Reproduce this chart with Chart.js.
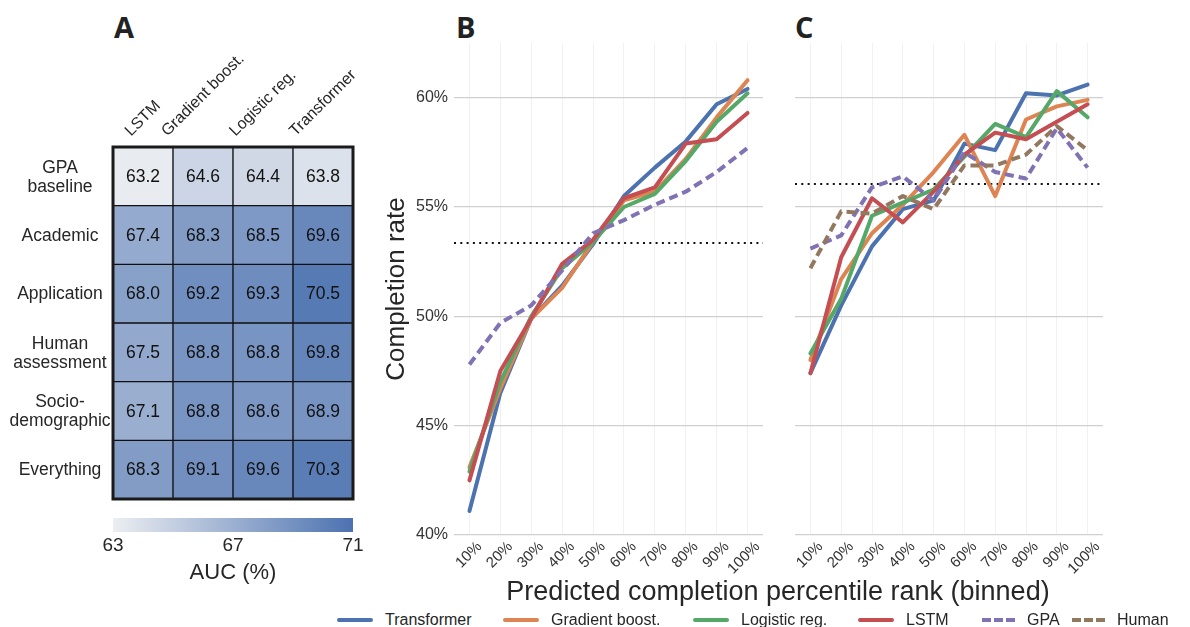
<!DOCTYPE html>
<html lang="en">
<head>
<meta charset="UTF-8" />
<title>Completion rate by predicted percentile</title>
<script src="https://cdn.jsdelivr.net/npm/chart.js@4.4.0/dist/chart.umd.min.js"></script>
<style>
  body { margin: 0; width: 1190px; height: 627px; background: #fff; position: relative; overflow: hidden;
         font-family: "Liberation Sans", Arial, sans-serif; color: #262626; }
  canvas { position: absolute; }
  .letter { position: absolute; top: 10px; font-family: "Open Sans", sans-serif; font-weight: 700; font-size: 29px; line-height: 34px; color: #222; }
  .xtitle { position: absolute; left: 428px; width: 700px; top: 576px; text-align: center; font-size: 27px; line-height: 30px; }
  .leg { position: absolute; top: 610px; height: 20px; display: flex; align-items: center; font-size: 16px; line-height: 20px; white-space: nowrap; }
  .leg .sw { height: 4px; margin-right: 12px; border-radius: 2px; }
</style>
</head>
<body>
<div class="letter" style="left:114px">A</div>
<div class="letter" style="left:456px">B</div>
<div class="letter" style="left:795px">C</div>

<canvas id="heat" width="380" height="600" style="left:0;top:0"></canvas>
<canvas id="chartB" width="390" height="580" style="left:380px;top:0"></canvas>
<canvas id="chartC" width="330" height="580" style="left:780px;top:0"></canvas>

<div class="xtitle">Predicted completion percentile rank (binned)</div>
<div id="legend"></div>

<script>
// ---- panel A data (AUC %) ----
const models = ['LSTM', 'Gradient boost.', 'Logistic reg.', 'Transformer'];
const featureSets = [['GPA', 'baseline'], ['Academic'], ['Application'], ['Human', 'assessment'], ['Socio-', 'demographic'], ['Everything']];
const aucGPA         = [63.2, 64.6, 64.4, 63.8];
const aucAcademic    = [67.4, 68.3, 68.5, 69.6];
const aucApplication = [68.0, 69.2, 69.3, 70.5];
const aucHuman       = [67.5, 68.8, 68.8, 69.8];
const aucSocio       = [67.1, 68.8, 68.6, 68.9];
const aucEverything  = [68.3, 69.1, 69.6, 70.3];
const aucRows = [aucGPA, aucAcademic, aucApplication, aucHuman, aucSocio, aucEverything];
const colorbarTicks = [63, 67, 71];

// ---- panels B and C data (completion rate %) ----
const bins = ['10%', '20%', '30%', '40%', '50%', '60%', '70%', '80%', '90%', '100%'];
const yTicks = [40, 45, 50, 55, 60];

const bTransformer = [41.1, 46.5, 49.9, 51.4, 53.3, 55.5, 56.8, 58.0, 59.7, 60.4];
const bGradient    = [43.1, 46.7, 49.9, 51.3, 53.4, 55.3, 55.7, 57.2, 59.1, 60.8];
const bLogistic    = [42.9, 47.0, 50.0, 52.2, 53.4, 55.0, 55.6, 57.1, 58.9, 60.2];
const bLSTM        = [42.5, 47.5, 49.9, 52.4, 53.5, 55.4, 55.9, 57.9, 58.1, 59.3];
const bGPA         = [47.8, 49.7, 50.5, 52.1, 53.8, 54.4, 55.1, 55.7, 56.6, 57.7];
const bOverall = 53.35;

const cTransformer = [47.4, 50.5, 53.2, 54.9, 55.3, 57.9, 57.6, 60.2, 60.1, 60.6];
const cGradient    = [48.0, 51.7, 53.8, 55.1, 56.6, 58.3, 55.5, 59.0, 59.6, 59.9];
const cLogistic    = [48.3, 50.8, 54.6, 55.2, 55.8, 57.3, 58.8, 58.2, 60.3, 59.1];
const cLSTM        = [47.4, 52.7, 55.4, 54.3, 55.7, 57.4, 58.4, 58.1, 58.9, 59.7];
const cGPA         = [53.1, 53.7, 55.9, 56.4, 55.3, 57.5, 56.6, 56.3, 58.6, 56.8];
const cHuman       = [52.2, 54.8, 54.7, 55.5, 54.9, 56.9, 56.9, 57.4, 58.7, 57.6];
const cOverall = 56.05;

// styles
const styles = {
  'Transformer':     { color: '#4c72b0', dash: false, order: 6 },
  'Gradient boost.': { color: '#dd8452', dash: false, order: 5 },
  'Logistic reg.':   { color: '#55a868', dash: false, order: 4 },
  'LSTM':            { color: '#c44e52', dash: false, order: 3 },
  'GPA':             { color: '#8172b3', dash: true,  order: 2 },
  'Human':           { color: '#937860', dash: true,  order: 1 }
};

Chart.defaults.font.family = '"Liberation Sans", Arial, sans-serif';
Chart.defaults.color = '#333';

// colour scale for the heatmap
const lo = [236, 238, 242], hi = [76, 114, 176];
function aucColor(v) {
  const t = Math.max(0, Math.min(1, (v - 63) / 8));
  const c = lo.map((a, i) => Math.round(a + (hi[i] - a) * t));
  return `rgb(${c[0]},${c[1]},${c[2]})`;
}

const heatLabels = {
  id: 'heatLabels',
  afterDatasetsDraw(chart) {
    const { ctx, chartArea: a, scales: { x, y } } = chart;
    ctx.save();
    ctx.textAlign = 'center';
    ctx.textBaseline = 'middle';
    ctx.font = '17.5px "Liberation Sans", Arial, sans-serif';
    ctx.fillStyle = '#111';
    aucRows.forEach((row, r) => row.forEach((v, c) => {
      ctx.fillText(v.toFixed(1), x.getPixelForValue(c), y.getPixelForValue(r + 0.5) + 1);
    }));
    ctx.lineWidth = 3;
    ctx.strokeStyle = '#1a1a1a';
    ctx.strokeRect(a.left, a.top, a.width, a.height);

    // row labels
    ctx.fillStyle = '#262626';
    featureSets.forEach((lines, r) => {
      const cy = y.getPixelForValue(r + 0.5);
      lines.forEach((t, i) => ctx.fillText(t, 60, cy + 1 + (i - (lines.length - 1) / 2) * 19));
    });

    // column labels, rotated 45 deg, bbox centred on column
    ctx.font = '16px "Liberation Sans", Arial, sans-serif';
    models.forEach((m, c) => {
      const w = ctx.measureText(m).width;
      const side = (w + 12) * Math.SQRT1_2;
      ctx.save();
      ctx.translate(x.getPixelForValue(c), a.top - 9 - side / 2);
      ctx.rotate(-Math.PI / 4);
      ctx.fillText(m, 0, 0);
      ctx.restore();
    });

    // colour bar
    const top = a.bottom + 19, h = 14;
    const g = ctx.createLinearGradient(a.left, 0, a.right, 0);
    g.addColorStop(0, aucColor(63));
    g.addColorStop(1, aucColor(71));
    ctx.fillStyle = g;
    ctx.fillRect(a.left, top, a.width, h);
    ctx.fillStyle = '#262626';
    ctx.font = '19px "Liberation Sans", Arial, sans-serif';
    colorbarTicks.forEach(t => {
      const px = a.left + (t - 63) / 8 * a.width;
      ctx.fillText(String(t), px, top + h + 14);
    });
    ctx.font = '22px "Liberation Sans", Arial, sans-serif';
    ctx.fillText('AUC (%)', (a.left + a.right) / 2, top + h + 41);
    ctx.restore();
  }
};

new Chart(document.getElementById('heat'), {
  type: 'bar',
  data: {
    labels: models,
    datasets: aucRows.map((row, r) => ({
      label: featureSets[r].join(' '),
      data: row.map(() => [r, r + 1]),
      backgroundColor: row.map(aucColor),
      borderColor: '#111',
      borderWidth: 1,
      borderSkipped: false,
      barPercentage: 1,
      categoryPercentage: 1,
      grouped: false
    }))
  },
  options: {
    responsive: false,
    animation: false,
    layout: { padding: { left: 113, right: 27, top: 147, bottom: 101 } },
    plugins: { legend: { display: false }, tooltip: { enabled: false } },
    scales: {
      x: { display: false },
      y: { display: false, min: 0, max: 6, reverse: true }
    }
  },
  plugins: [heatLabels]
});

// dotted line for the overall completion rate
function overallLine(value) {
  return {
    id: 'overall',
    beforeDatasetsDraw(chart) {
      const { ctx, chartArea: a, scales: { y } } = chart;
      const py = y.getPixelForValue(value);
      ctx.save();
      ctx.strokeStyle = '#111';
      ctx.lineWidth = 2;
      ctx.setLineDash([2, 4.3]);
      ctx.beginPath();
      ctx.moveTo(a.left, py);
      ctx.lineTo(a.right, py);
      ctx.stroke();
      ctx.restore();
    }
  };
}

function lineChart(id, series, overall, withTicks) {
  return new Chart(document.getElementById(id), {
    type: 'line',
    data: {
      labels: bins,
      datasets: series.map(([name, values]) => ({
        label: name,
        data: values,
        borderColor: styles[name].color,
        borderWidth: 4,
        borderDash: styles[name].dash ? [9, 5] : [],
        borderCapStyle: styles[name].dash ? 'butt' : 'round',
        borderJoinStyle: 'round',
        pointRadius: 0,
        tension: 0,
        fill: false,
        order: styles[name].order
      }))
    },
    options: {
      responsive: false,
      animation: false,
      layout: { padding: { top: 43, right: 7, left: 0, bottom: 0 } },
      plugins: { legend: { display: false }, tooltip: { enabled: false } },
      scales: {
        x: {
          offset: true,
          grid: { offset: false, color: '#f1f1f1', lineWidth: 1, drawTicks: false },
          border: { display: false },
          ticks: { minRotation: 45, maxRotation: 45, autoSkip: false, font: { size: 15 }, color: '#333', padding: 3, labelOffset: 10 },
          afterFit: s => { s.height = 45; }
        },
        y: {
          min: 40, max: 62.5,
          grid: { color: '#d0d0d0', lineWidth: 1.3, drawTicks: false },
          border: { display: false },
          afterBuildTicks: s => { s.ticks = yTicks.map(v => ({ value: v })); },
          ticks: { display: withTicks, callback: v => v + '%', font: { size: 16 }, color: '#333', padding: 6 },
          title: { display: withTicks, text: 'Completion rate', font: { size: 26 }, color: '#262626', padding: { top: 1, bottom: 0 } },
          afterFit: s => { s.width = withTicks ? 74 : 15; }
        }
      }
    },
    plugins: [overallLine(overall)]
  });
}

lineChart('chartB', [
  ['Transformer', bTransformer], ['Gradient boost.', bGradient], ['Logistic reg.', bLogistic],
  ['LSTM', bLSTM], ['GPA', bGPA]
], bOverall, true);

lineChart('chartC', [
  ['Transformer', cTransformer], ['Gradient boost.', cGradient], ['Logistic reg.', cLogistic],
  ['LSTM', cLSTM], ['GPA', cGPA], ['Human', cHuman]
], cOverall, false);

// legend
const legendX = [337, 503, 693, 858, 982, 1072];
const legend = document.getElementById('legend');
Object.keys(styles).forEach((name, i) => {
  const s = styles[name];
  const item = document.createElement('div');
  item.className = 'leg';
  item.style.left = legendX[i] + 'px';
  const sw = document.createElement('div');
  sw.className = 'sw';
  if (s.dash) {
    sw.style.width = '33px';
    sw.style.borderRadius = '0';
    sw.style.background = `repeating-linear-gradient(90deg, ${s.color} 0 9px, transparent 9px 12px)`;
  } else {
    sw.style.width = '36px';
    sw.style.background = s.color;
  }
  const tx = document.createElement('span');
  tx.textContent = name;
  item.appendChild(sw);
  item.appendChild(tx);
  legend.appendChild(item);
});
</script>
</body>
</html>
